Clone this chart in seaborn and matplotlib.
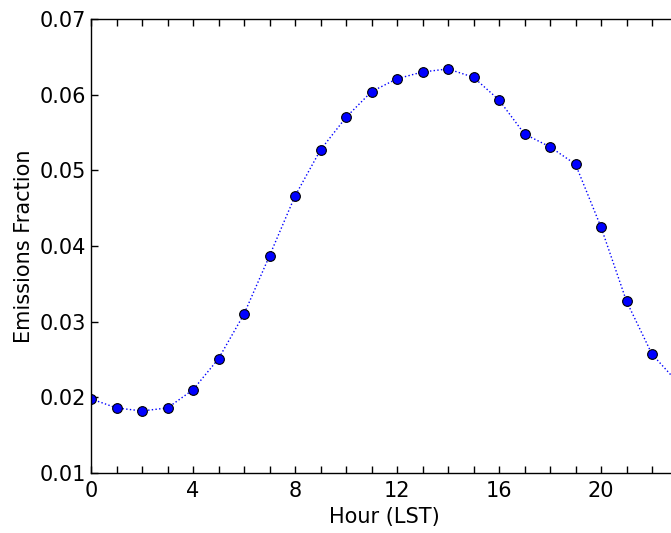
import matplotlib
matplotlib.use("Agg")
import matplotlib.pyplot as plt
import seaborn as sns
import numpy as np
import pandas as pd
from matplotlib.ticker import MultipleLocator

hours = list(range(24))
fraction = [0.0198, 0.0186, 0.0182, 0.0186, 0.0210, 0.0251, 0.0310, 0.0387,
            0.0466, 0.0527, 0.0570, 0.0604, 0.0621, 0.0630, 0.0634, 0.0623,
            0.0593, 0.0548, 0.0531, 0.0508, 0.0425, 0.0327, 0.0257, 0.0220]

df = pd.DataFrame({"hour": hours, "frac": fraction})

sns.set_style("ticks")
plt.rcParams['font.family'] = ['DejaVu Sans']
plt.rcParams['text.color'] = 'black'
plt.rcParams['axes.labelcolor'] = 'black'
plt.rcParams['xtick.color'] = 'black'
plt.rcParams['ytick.color'] = 'black'

fig = plt.figure(figsize=(6.71, 5.33), dpi=100)
ax = fig.add_axes([91/671, 1 - 473/533, 23*25.5/671, (473-19)/533])

sns.lineplot(data=df, x="hour", y="frac", ax=ax, color="blue", linestyle=":",
             linewidth=1, marker="o", markersize=7, markerfacecolor="blue",
             markeredgecolor="black", markeredgewidth=0.8)

ax.set_xlim(0, 23)
ax.set_ylim(0.01, 0.07)
ax.xaxis.set_major_locator(MultipleLocator(4))
ax.xaxis.set_minor_locator(MultipleLocator(1))
ax.yaxis.set_major_locator(MultipleLocator(0.01))
ax.tick_params(which="both", direction="in", top=True, right=True,
               length=5, width=1, color="black", labelcolor="black", labelsize=15)
ax.tick_params(axis="x", pad=6)
for s in ax.spines.values():
    s.set_visible(True)
    s.set_color("black")
    s.set_linewidth(1)
ax.set_xlabel("Hour (LST)", fontsize=15, color="black")
ax.set_ylabel("Emissions Fraction", fontsize=15, color="black")

fig.savefig("out.png", dpi=100)
